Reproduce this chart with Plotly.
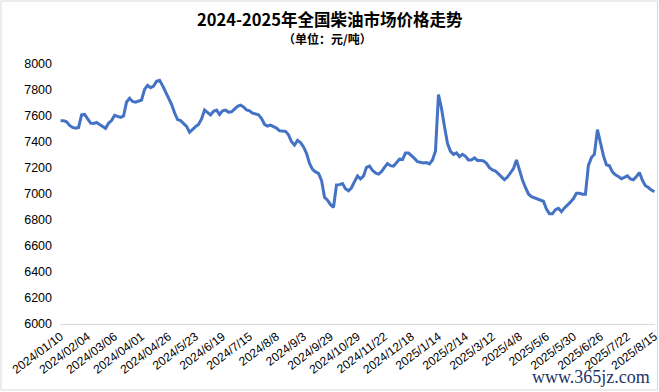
import plotly.graph_objects as go

# Daily-ish diesel price series (元/吨), evenly spaced samples
prices = [
    7564, 7564, 7555, 7528, 7512, 7506, 7512, 7609, 7612, 7580,
    7545, 7543, 7550, 7534, 7517, 7505, 7545, 7565, 7606, 7598,
    7590, 7600, 7708, 7736, 7712, 7706, 7714, 7723, 7805, 7836,
    7818, 7830, 7868, 7875, 7834, 7787, 7750, 7690, 7625, 7572,
    7564, 7545, 7520, 7475, 7500, 7518, 7535, 7577, 7646, 7630,
    7608, 7636, 7645, 7612, 7640, 7645, 7630, 7632, 7655, 7674,
    7684, 7670, 7646, 7640, 7622, 7617, 7610, 7580, 7536, 7523,
    7530, 7518, 7507, 7486, 7485, 7482, 7455, 7402, 7377, 7412,
    7395, 7362, 7313, 7236, 7190, 7170, 7158, 7105, 6975, 6952,
    6918, 6898, 7070, 7072, 7080, 7040, 7025, 7048, 7095, 7139,
    7116, 7138, 7205, 7215, 7182, 7162, 7153, 7172, 7205, 7234,
    7218, 7215, 7240, 7268, 7265, 7315, 7315, 7298, 7274, 7248,
    7240, 7238, 7242, 7232, 7262, 7330, 7765, 7660, 7520, 7390,
    7328, 7305, 7316, 7287, 7305, 7290, 7262, 7262, 7278, 7258,
    7258, 7255, 7236, 7203, 7185, 7177, 7155, 7130, 7110, 7130,
    7165, 7195, 7262, 7180, 7108, 7050, 7000, 6980, 6970, 6962,
    6954, 6944, 6885, 6848, 6848, 6880, 6890, 6864, 6893, 6913,
    6937, 6965, 7005, 7005, 6998, 6998, 7220, 7280, 7306, 7495,
    7390, 7295, 7225, 7217, 7170, 7148, 7135, 7118, 7128, 7140,
    7116, 7110, 7135, 7165, 7105, 7064, 7050, 7030, 7018,
]

tick_labels = [
    "2024/01/10", "2024/02/04", "2024/03/06", "2024/04/01", "2024/04/26",
    "2024/5/23", "2024/6/19", "2024/7/15", "2024/8/8", "2024/9/3",
    "2024/9/29", "2024/10/29", "2024/11/22", "2024/12/18", "2025/1/14",
    "2025/2/14", "2025/3/12", "2025/4/8", "2025/5/6", "2025/5/30",
    "2025/6/26", "2025/7/22", "2025/8/15",
]
label_step = 9
tick_positions = [i * label_step for i in range(len(tick_labels))]

y_ticks = [6000, 6200, 6400, 6600, 6800, 7000, 7200, 7400, 7600, 7800, 8000]

title_text = "2024-2025年全国柴油市场价格走势"
subtitle_text = "（单位：元/吨）"
watermark = "www.365jz.com"

fig = go.Figure()
fig.add_trace(go.Scatter(
    x=list(range(len(prices))),
    y=prices,
    mode="lines",
    line=dict(color="#4472C4", width=3),
    hoverinfo="skip",
))

L, R, T, B = 60, 4, 64, 68
W, H = 659, 392
pw, ph = W - L - R, H - T - B

def px_x(p):
    return (p - L) / pw

def px_y(p):
    return (H - B - p) / ph

fig.update_layout(
    width=W, height=H,
    margin=dict(l=L, r=R, t=T, b=B, autoexpand=False),
    paper_bgcolor="white",
    plot_bgcolor="white",
    showlegend=False,
    xaxis=dict(
        range=[-0.2, len(prices) - 0.8],
        automargin=False,
        tickmode="array",
        tickvals=tick_positions,
        ticktext=tick_labels,
        tickangle=-37,
        ticklabeloverflow="allow",
        tickfont=dict(family="Liberation Sans, Arial", size=12, color="black"),
        showgrid=False,
        zeroline=False,
        showline=True,
        linecolor="#d9d9d9",
        linewidth=1,
        ticks="",
    ),
    yaxis=dict(
        range=[6000, 8000],
        automargin=False,
        tickmode="array",
        tickvals=y_ticks,
        tickfont=dict(family="Liberation Sans, Arial", size=12.5, color="black"),
        showgrid=False,
        zeroline=False,
        showline=False,
        ticks="",
        ticklabelstandoff=7,
    ),
    shapes=[dict(
        type="rect", xref="paper", yref="paper",
        x0=px_x(1), x1=px_x(657.5), y0=px_y(390), y1=px_y(1),
        line=dict(color="#d9d9d9", width=1), fillcolor="rgba(0,0,0,0)",
        layer="below",
    )],
    annotations=[
        dict(text="<b>" + title_text + "</b>", xref="paper", yref="paper",
             x=px_x(330), y=px_y(19), xanchor="center", yanchor="middle",
             showarrow=False,
             font=dict(family="Noto Sans CJK SC", size=16.5, color="black")),
        dict(text="<b>" + subtitle_text + "</b>", xref="paper", yref="paper",
             x=px_x(327), y=px_y(39), xanchor="center", yanchor="middle",
             showarrow=False,
             font=dict(family="Noto Sans CJK SC", size=12, color="black")),
        dict(text=watermark, xref="paper", yref="paper",
             x=px_x(652), y=px_y(377), xanchor="right", yanchor="middle",
             showarrow=False,
             font=dict(family="Liberation Serif", size=18, color="#1f3566")),
    ],
)

fig.write_html(
    "out.html",
    config={"displayModeBar": False, "staticPlot": True},
    post_script="document.body.style.margin='0';document.body.style.overflow='hidden';",
)
